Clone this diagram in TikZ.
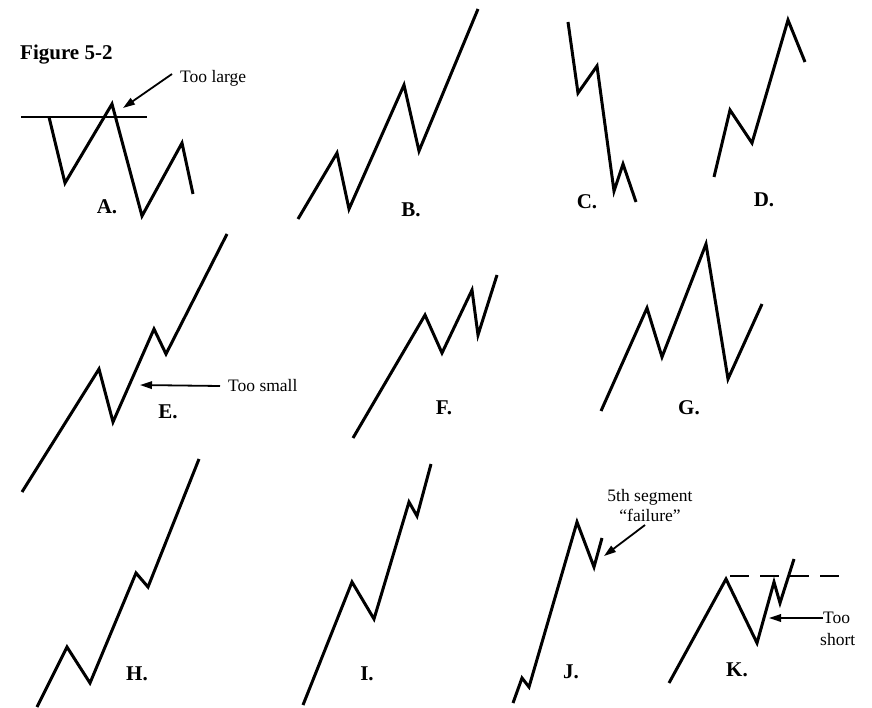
\documentclass[tikz,border=0pt]{standalone}
\usepackage{fontspec}
\setmainfont{Liberation Serif}
\usetikzlibrary{arrows.meta}
\begin{document}
\begin{tikzpicture}[x=1pt,y=-1pt,
  wave/.style={line width=3pt,line join=miter,miter limit=20},
  lbl/.style={font=\fontsize{21}{23}\selectfont\bfseries,inner sep=0pt},
  note/.style={font=\fontsize{17.5}{19}\selectfont,inner sep=0pt,align=center},
  pointer/.style={line width=1.8pt,-{Triangle[length=12pt,width=7.5pt]}},
  ref/.style={line width=1.8pt}]
\useasboundingbox[fill=white] (0,0) rectangle (872,708);

% title
\node[anchor=west,font=\fontsize{21}{23}\selectfont\bfseries,inner sep=0pt] (title) at (20,55) {Figure 5-2};

% A
\coordinate (aL) at (21,117);
\coordinate (aR) at (147,117);
\draw[ref] (aL) -- (aR);
\draw[wave] (49,117) -- (65,183) -- (112,104) -- (142,216) -- (182,143) -- (193,194);
\node[note,anchor=west] (tooLarge) at (180,78) {Too large};
\coordinate (aTip) at (123,108);
\draw[pointer] (172,74) -- (aTip);
\node[lbl] (labA) at (107,207) {A.};

% B
\draw[wave] (298,219) -- (337,153) -- (349,209) -- (404,85) -- (419,151) -- (478,9);
\node[lbl] (labB) at (411,210) {B.};

% C
\draw[wave] (568,22) -- (578,93) -- (597,66) -- (614,191) -- (623,164) -- (636,202);
\node[lbl] (labC) at (587,202) {C.};

% D
\draw[wave] (714,177) -- (730,110) -- (752,143) -- (788,20) -- (805,62);
\node[lbl] (labD) at (764,200) {D.};

% E
\draw[wave] (22,492) -- (99,369) -- (113,422) -- (154,329) -- (166,354) -- (227,234);
\node[note,anchor=west] (tooSmall) at (228,386) {Too small};
\coordinate (eTip) at (140,385);
\draw[pointer] (tooSmall.west) ++(-8,0) -- (eTip);
\node[lbl] (labE) at (168,412) {E.};

% F
\draw[wave] (353,438) -- (425,315) -- (442,353) -- (472,290) -- (478,335) -- (497,275);
\node[lbl] (labF) at (444,408) {F.};

% G
\draw[wave] (601,411) -- (647,308) -- (662,357) -- (706,244) -- (728,379) -- (762,304);
\node[lbl] (labG) at (689,408) {G.};

% H
\draw[wave] (37,707) -- (67,647) -- (90,683) -- (136,573) -- (148,587) -- (199,459);
\node[lbl] (labH) at (137,674) {H.};

% I
\draw[wave] (303,705) -- (352,582) -- (374,619) -- (409,502) -- (417,516) -- (431,464);
\node[lbl] (labI) at (367,674) {I.};

% J
\draw[wave] (513,703) -- (522,678) -- (529,687) -- (577,522) -- (594,567) -- (602,538);
\node[note] (fifth) at (650,497) {5th segment};
\node[note] (failure) at (650,515) {``failure''};
\coordinate (jTip) at (604,556);
\draw[pointer] (645,525) -- (jTip);
\node[lbl] (labJ) at (571,672) {J.};

% K
\draw[ref,dash pattern=on 19pt off 11pt] (730,576) -- (840,576);
\draw[wave] (669,683) -- (726,579) -- (757,643) -- (774,582) -- (780,603) -- (794,559);
\node[note,anchor=west] (too) at (823,618) {Too};
\node[note,anchor=west] (short) at (820,640) {short};
\coordinate (kTip) at (769,618);
\draw[pointer] (too.west) -- (kTip);
\node[lbl] (labK) at (737,670) {K.};
\end{tikzpicture}
\end{document}
